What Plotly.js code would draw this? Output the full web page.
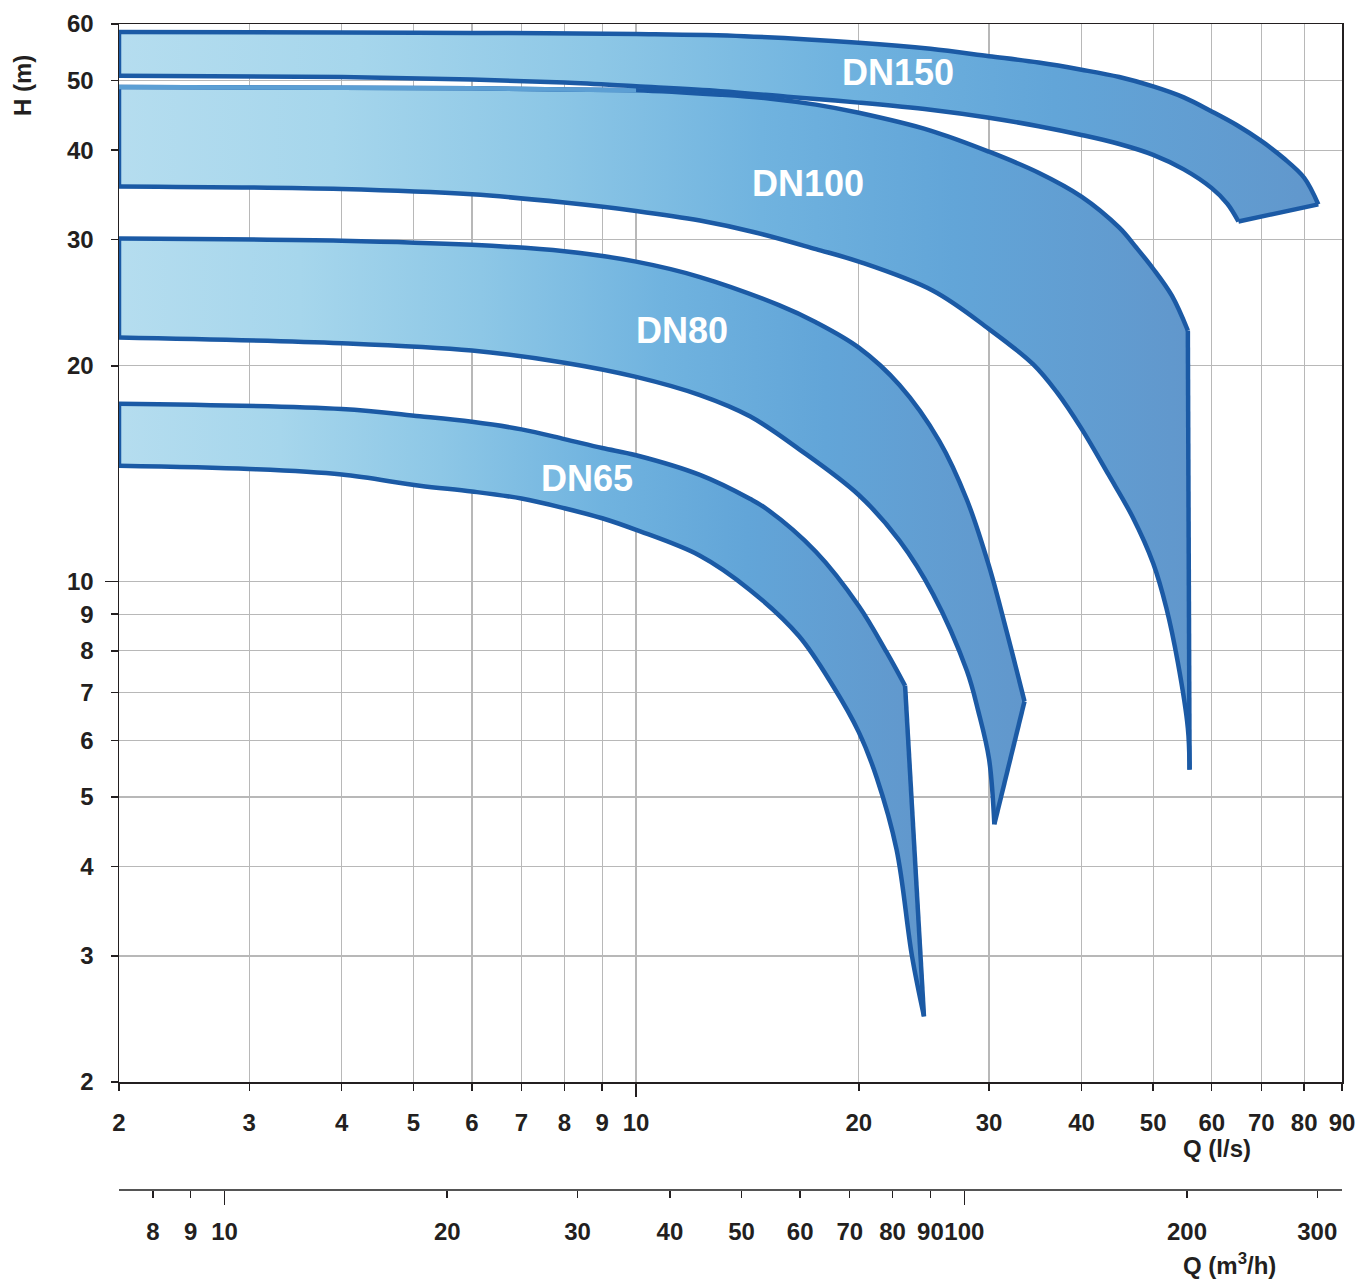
<!DOCTYPE html>
<html>
<head>
<meta charset="utf-8">
<script src="https://cdn.plot.ly/plotly-3.0.1.min.js"></script>
<style>
html,body{margin:0;padding:0;background:#ffffff;}
#chart{width:1362px;height:1280px;}
</style>
</head>
<body>
<div id="chart"></div>
<script>
// ---------- tick labels ----------
const qTicks   = [2,3,4,5,6,7,8,9,10,20,30,40,50,60,70,80,90];
const hTicks   = [2,3,4,5,6,7,8,9,10,20,30,40,50,60];
const m3hTicks = [8,9,10,20,30,40,50,60,70,80,90,100,200,300];
const LPS_TO_M3H = 3.6;

// ---------- band edges: Q (l/s), H (m) ----------
const dn150UpperQ = [2,4,6,10,14,20,25,30,35,40,45,50,55,60,65,70,75,80,83.6];
const dn150UpperH = [58.5,58.4,58.3,58.1,57.7,56.5,55.4,54.1,53.0,51.8,50.6,49.1,47.4,45.3,43.3,41.2,39.0,36.6,33.6];
const dn150LowerQ = [2,4,6,8,10,13,16,20,25,30,35,40,45,50,55,60,63,65.2];
const dn150LowerH = [50.8,50.6,50.2,49.7,49.1,48.35,47.5,46.6,45.55,44.4,43.2,42.0,40.8,39.4,37.6,35.4,33.66,31.8];

const dn100UpperQ = [2,4,6,8,10,13,15.2,17.5,20,25,30,35,40,45,47.5,50,53,55.7];
const dn100UpperH = [49.0,48.9,48.8,48.6,48.5,47.8,47.2,46.3,45.1,42.6,39.8,37.2,34.45,31.17,29.2,27.32,25.05,22.4];
const dn100LowerQ = [2,4,6,8,10,12.2,14.5,17.5,20,25.2,30,34.4,37,40,43.5,46.9,50,52.1,54,55.7,56];
const dn100LowerH = [35.6,35.3,34.7,33.8,32.9,31.9,30.7,29.1,27.95,25.45,22.5,20.1,18.4,16.34,14.1,12.3,10.6,9.18,7.7,6.24,5.46];

const dn80UpperQ = [2,4,6,8,10,12.2,15.6,17.5,20,22.7,25.7,28,30,31.7,32.6,33.5];
const dn80UpperH = [30.1,29.9,29.5,28.9,27.95,26.6,24.3,23.0,21.2,18.8,15.7,13.0,10.5,8.5,7.6,6.8];
const dn80LowerQ = [2,4,6,8,10,12.2,14.25,16.6,20,22.7,25.2,28,29,30,30.5];
const dn80LowerH = [21.9,21.5,21.0,20.2,19.3,18.2,17.0,15.3,13.2,11.4,9.6,7.5,6.6,5.65,4.58];

const dn65UpperQ = [2,4,5.1,6,7,8,9,10,12.2,14.25,15,17.5,20,21.8,23.1];
const dn65UpperH = [17.7,17.4,17.0,16.7,16.3,15.8,15.35,15.0,14.08,13.04,12.63,11.0,9.24,7.97,7.15];
const dn65LowerQ = [2,3,4,5.1,6,7,8,9,10,12.2,14.25,16.6,18.45,20,21.15,22.5,23.6,24.5];
const dn65LowerH = [14.5,14.35,14.1,13.6,13.35,13.05,12.65,12.25,11.8,10.86,9.73,8.39,7.15,6.16,5.32,4.22,3.0,2.47];

// ---------- band labels ----------
const bandNames  = ['DN65','DN80','DN100','DN150'];
const bandLabelQ = [8.58,11.53,17.06,22.6];
const bandLabelH = [13.9,22.4,35.9,51.3];

// ---------- styles ----------
const EDGE = '#1b5aa5';
const EDGE_LIGHT = '#5c9fd4';
const GRAD = [[0,'#b5ddef'],[0.2,'#a6d6ec'],[0.4,'#8dc7e6'],[0.6,'#70b3df'],[0.78,'#62a5d8'],[1,'#6197cc']];
const FONT = 'Liberation Sans, Arial, Helvetica, sans-serif';
const TXT = '#231f20';
const GRID = '#b8b8b8';
const LW = 4.5;

function bandTraces(uq, uh, lq, lh) {
  const base = {type: 'scatter', mode: 'lines', hoverinfo: 'skip', xaxis: 'x', yaxis: 'y'};
  const curve = {color: EDGE, width: LW, shape: 'spline', smoothing: 1};
  return [
    Object.assign({}, base, {x: lq, y: lh, line: curve}),
    Object.assign({}, base, {x: uq, y: uh, line: curve, fill: 'tonexty',
      fillgradient: {type: 'horizontal', colorscale: GRAD}}),
    Object.assign({}, base, {x: [uq[0], lq[0]], y: [uh[0], lh[0]],
      line: {color: EDGE, width: LW}}),
    Object.assign({}, base, {x: [uq[uq.length-1], lq[lq.length-1]], y: [uh[uh.length-1], lh[lh.length-1]],
      line: {color: EDGE, width: LW}})
  ];
}

const traces = [].concat(
  bandTraces(dn65UpperQ, dn65UpperH, dn65LowerQ, dn65LowerH),
  bandTraces(dn80UpperQ, dn80UpperH, dn80LowerQ, dn80LowerH),
  bandTraces(dn100UpperQ, dn100UpperH, dn100LowerQ, dn100LowerH),
  [{
    x: dn100UpperQ.slice(0, 5), y: dn100UpperH.slice(0, 5),
    type: 'scatter', mode: 'lines', line: {color: EDGE_LIGHT, width: LW, shape: 'spline'},
    hoverinfo: 'skip', xaxis: 'x', yaxis: 'y'
  }],
  bandTraces(dn150UpperQ, dn150UpperH, dn150LowerQ, dn150LowerH),
  [
    // helpers so the secondary / overlay axes get drawn
    {x:[qTicks[0]*LPS_TO_M3H], y:[hTicks[0]], xaxis:'x2', yaxis:'y', mode:'markers', marker:{opacity:0}, hoverinfo:'skip'},
    {x:[qTicks[0]], y:[hTicks[0]], xaxis:'x3', yaxis:'y', mode:'markers', marker:{opacity:0}, hoverinfo:'skip'},
    {x:[qTicks[0]*LPS_TO_M3H], y:[hTicks[0]], xaxis:'x4', yaxis:'y', mode:'markers', marker:{opacity:0}, hoverinfo:'skip'},
    {x:[qTicks[0]], y:[hTicks[0]], xaxis:'x', yaxis:'y3', mode:'markers', marker:{opacity:0}, hoverinfo:'skip'}
  ]
);

const qRange = [Math.log10(qTicks[0]), Math.log10(qTicks[qTicks.length-1])];
const hRange = [Math.log10(hTicks[0]), Math.log10(hTicks[hTicks.length-1])];
const m3hRange = qRange.map(v => v + Math.log10(LPS_TO_M3H));
const yDom = [0.0926, 1];
const tickFont = {family: FONT, size: 24, color: TXT, weight: 'bold'};

const annotations = bandNames.map((n, i) => ({
  text: n, xref: 'x', yref: 'y',
  x: Math.log10(bandLabelQ[i]), y: Math.log10(bandLabelH[i]),
  showarrow: false, xanchor: 'center', yanchor: 'middle',
  font: {family: FONT, size: 36, color: '#ffffff', weight: 'bold'}
}));
annotations.push(
  {text: 'H (m)', xref: 'paper', yref: 'paper', x: -0.0793, y: 0.9468, textangle: -90,
   showarrow: false, xanchor: 'center', yanchor: 'middle', font: tickFont},
  {text: 'Q (l/s)', xref: 'paper', yref: 'paper', x: 0.8978, y: 0.0355,
   showarrow: false, xanchor: 'center', yanchor: 'middle', font: tickFont},
  {text: 'Q (m<sup>3</sup>/h)', xref: 'paper', yref: 'paper', x: 0.9084, y: -0.0635,
   showarrow: false, xanchor: 'center', yanchor: 'middle', font: tickFont}
);

const layout = {
  width: 1362, height: 1280,
  margin: {l: 119, r: 20, t: 24, b: 90},
  paper_bgcolor: '#ffffff', plot_bgcolor: '#ffffff',
  showlegend: false,
  font: {family: FONT, size: 24, color: TXT, weight: 'bold'},
  xaxis: {
    type: 'log', range: qRange, anchor: 'y',
    tickmode: 'array', tickvals: qTicks, ticktext: qTicks.map(String), tickangle: 0,
    ticks: 'outside', ticklen: 7, tickwidth: 1.5, tickcolor: TXT,
    tickfont: tickFont, ticklabelstandoff: 12,
    showgrid: true, gridcolor: GRID, gridwidth: 1.2,
    showline: true, linecolor: TXT, linewidth: 1.5, mirror: true, zeroline: false
  },
  yaxis: {
    type: 'log', range: hRange, domain: yDom, anchor: 'x',
    tickmode: 'array', tickvals: hTicks, ticktext: hTicks.map(String),
    ticks: 'outside', ticklen: 7, tickwidth: 1.5, tickcolor: TXT,
    tickfont: tickFont, ticklabelstandoff: 12,
    showgrid: true, gridcolor: GRID, gridwidth: 1.2,
    showline: true, linecolor: TXT, linewidth: 1.5, mirror: true, zeroline: false
  },
  xaxis2: {
    type: 'log', range: m3hRange, overlaying: 'x', anchor: 'free', position: 0, side: 'bottom',
    tickmode: 'array', tickvals: m3hTicks, ticktext: m3hTicks.map(String), tickangle: 0,
    ticks: 'outside', ticklen: 7, tickwidth: 1.5, tickcolor: TXT,
    tickfont: tickFont, ticklabelstandoff: 13,
    showgrid: false, showline: true, linecolor: '#555555', linewidth: 2, zeroline: false
  },
  xaxis3: {
    type: 'log', range: qRange, overlaying: 'x', anchor: 'y', side: 'bottom',
    tickmode: 'array', tickvals: [10], ticks: 'outside', ticklen: 14, tickwidth: 1.5, tickcolor: TXT,
    showticklabels: false, showgrid: false, showline: false, zeroline: false
  },
  xaxis4: {
    type: 'log', range: m3hRange, overlaying: 'x', anchor: 'free', position: 0, side: 'bottom',
    tickmode: 'array', tickvals: [10, 100], ticks: 'outside', ticklen: 14, tickwidth: 1.5, tickcolor: TXT,
    showticklabels: false, showgrid: false, showline: false, zeroline: false
  },
  yaxis3: {
    type: 'log', range: hRange, overlaying: 'y', anchor: 'x', side: 'left',
    tickmode: 'array', tickvals: [10], ticks: 'outside', ticklen: 13, tickwidth: 1.5, tickcolor: TXT,
    showticklabels: false, showgrid: false, showline: false, zeroline: false
  },
  annotations: annotations
};

Plotly.newPlot('chart', traces, layout, {displayModeBar: false, staticPlot: true});
</script>
</body>
</html>
